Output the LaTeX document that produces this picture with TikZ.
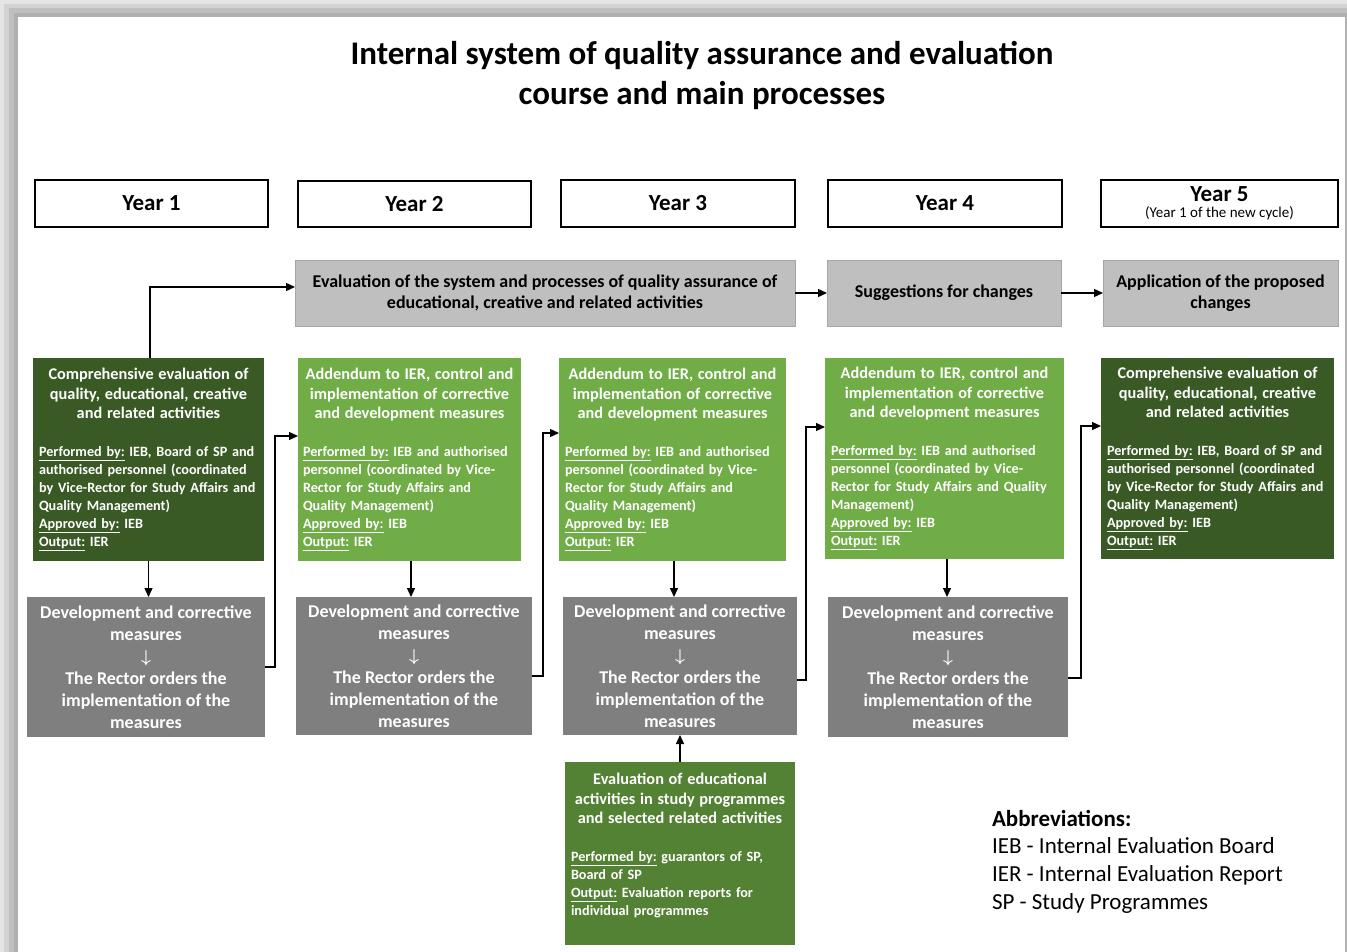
\documentclass[tikz,border=0pt]{standalone}
\usepackage{fontspec}
\setmainfont{Carlito}
\usetikzlibrary{arrows.meta}
\definecolor{dkgreen}{HTML}{3A5A25}
\definecolor{ltgreen}{HTML}{70AD47}
\definecolor{mdgreen}{HTML}{548235}
\definecolor{dkgray}{HTML}{7F7F7F}
\definecolor{ltgray}{HTML}{BFBFBF}
\definecolor{ltgrayb}{HTML}{A6A6A6}
\newcommand\bl[1]{\makebox[\hsize][l]{#1}}
\newcommand\ul[1]{\underline{#1}}
\newcommand\ttlf{\fontsize{16.3}{18}\selectfont\bfseries}
\begin{document}
\begin{tikzpicture}[x=1pt,y=-1pt,
  every node/.style={inner sep=0pt, outer sep=0pt},
  arr/.style={line width=1.4pt, -{Triangle[length=9pt,width=8pt]}},
  yearbox/.style={draw=black, line width=1.4pt, fill=white, anchor=north west, align=center,
     font=\fontsize{23}{24}\selectfont\bfseries},
  procbox/.style={draw=ltgrayb, line width=0.8pt, fill=ltgray, anchor=north west, align=center,
     font=\fontsize{18}{21}\selectfont\bfseries},
  greenbox/.style={fill=#1, anchor=north west, align=center, text=white,
     font=\fontsize{14.2}{18}\selectfont\bfseries},
  graybox/.style={fill=dkgray, anchor=north west, align=center, text=white,
     font=\fontsize{18}{22}\selectfont\bfseries}
]
\useasboundingbox (0,0) rectangle (1347,952);
% page frame with shadow
\fill[gray!20] (0,0) rectangle (1347,952);
\fill[gray!35] (4,4) rectangle (1347,952);
\fill[gray!50] (9,8) rectangle (1347,952);
\fill[gray!62] (14,13) rectangle (1347,952);
\fill[white] (18,17) rectangle (1345,960);
\draw[gray!60, line width=0.8pt] (1345,17) -- (1345,952);

% title
\node[align=center, font=\fontsize{33}{40}\selectfont\bfseries] (title) at (702,75)
  {Internal system of quality assurance and evaluation\\course and main processes};

% year headers
\node[yearbox, minimum width=233, minimum height=47] (y1) at (35,180) {Year 1};
\node[yearbox, minimum width=233, minimum height=46] (y2) at (298,181) {Year 2};
\node[yearbox, minimum width=234, minimum height=47] (y3) at (561,180) {Year 3};
\node[yearbox, minimum width=234, minimum height=47] (y4) at (828,180) {Year 4};
\node[yearbox, minimum width=237, minimum height=47] (y5) at (1101,180)
  {Year 5\\[-8pt]{\fontsize{15}{15}\selectfont\mdseries (Year 1 of the new cycle)}};

% process boxes
\node[procbox, minimum width=500, minimum height=66] (e1) at (295,260)
  {Evaluation of the system and processes of quality assurance of\\educational, creative and related activities};
\node[procbox, minimum width=234, minimum height=66] (e2) at (827,260) {Suggestions for changes};
\node[procbox, minimum width=235, minimum height=66] (e3) at (1103,260) {Application of the proposed\\changes};

% green boxes
\node[greenbox=dkgreen, text width=219, minimum width=231, minimum height=203] (g1) at (33,358)
  {{\ttlf Comprehensive evaluation of}\\[1.5pt]{\ttlf quality, educational, creative}\\[1.5pt]{\ttlf and related activities}\\[20pt]
   \bl{\ul{Performed by:} IEB, Board of SP and}\\
   \bl{authorised personnel (coordinated}\\
   \bl{by Vice-Rector for Study Affairs and}\\
   \bl{Quality Management)}\\
   \bl{\ul{Approved by:} IEB}\\
   \bl{\ul{Output:} IER}};
\node[greenbox=ltgreen, text width=213, minimum width=223, minimum height=203] (g2) at (298,358)
  {{\ttlf Addendum to IER, control and}\\[1.5pt]{\ttlf implementation of corrective}\\[1.5pt]{\ttlf and development measures}\\[20pt]
   \bl{\ul{Performed by:} IEB and authorised}\\
   \bl{personnel (coordinated by Vice-}\\
   \bl{Rector for Study Affairs and}\\
   \bl{Quality Management)}\\
   \bl{\ul{Approved by:} IEB}\\
   \bl{\ul{Output:} IER}};
\node[greenbox=ltgreen, text width=215, minimum width=227, minimum height=203] (g3) at (559,358)
  {{\ttlf Addendum to IER, control and}\\[1.5pt]{\ttlf implementation of corrective}\\[1.5pt]{\ttlf and development measures}\\[20pt]
   \bl{\ul{Performed by:} IEB and authorised}\\
   \bl{personnel (coordinated by Vice-}\\
   \bl{Rector for Study Affairs and}\\
   \bl{Quality Management)}\\
   \bl{\ul{Approved by:} IEB}\\
   \bl{\ul{Output:} IER}};
\node[greenbox=ltgreen, text width=227, minimum width=239, minimum height=201] (g4) at (825,358)
  {{\ttlf Addendum to IER, control and}\\[1.5pt]{\ttlf implementation of corrective}\\[1.5pt]{\ttlf and development measures}\\[20pt]
   \bl{\ul{Performed by:} IEB and authorised}\\
   \bl{personnel (coordinated by Vice-}\\
   \bl{Rector for Study Affairs and Quality}\\
   \bl{Management)}\\
   \bl{\ul{Approved by:} IEB}\\
   \bl{\ul{Output:} IER}};
\node[greenbox=dkgreen, text width=221, minimum width=233, minimum height=201] (g5) at (1101,358)
  {{\ttlf Comprehensive evaluation of}\\[1.5pt]{\ttlf quality, educational, creative}\\[1.5pt]{\ttlf and related activities}\\[20pt]
   \bl{\ul{Performed by:} IEB, Board of SP and}\\
   \bl{authorised personnel (coordinated}\\
   \bl{by Vice-Rector for Study Affairs and}\\
   \bl{Quality Management)}\\
   \bl{\ul{Approved by:} IEB}\\
   \bl{\ul{Output:} IER}};

% dark gray boxes
\newcommand\dgtext{Development and corrective\\measures\\{\boldmath$\downarrow$}\\The Rector orders the\\implementation of the\\measures}
\node[graybox, minimum width=238, minimum height=140] (d1) at (27,597) {\dgtext};
\node[graybox, minimum width=236, minimum height=138] (d2) at (296,597) {\dgtext};
\node[graybox, minimum width=234, minimum height=138] (d3) at (563,597) {\dgtext};
\node[graybox, minimum width=240, minimum height=140] (d4) at (828,597) {\dgtext};

% bottom box
\node[greenbox=mdgreen, text width=218, minimum width=230, minimum height=183] (b) at (565,762)
  {{\ttlf Evaluation of educational}\\[1.5pt]{\ttlf activities in study programmes}\\[1.5pt]{\ttlf and selected related activities}\\[20pt]
   \bl{\ul{Performed by:} guarantors of SP,}\\
   \bl{Board of SP}\\
   \bl{\ul{Output:} Evaluation reports for}\\
   \bl{individual programmes}\\[0pt]\mbox{}};

% abbreviations
\node[anchor=north west, align=left, font=\fontsize{23}{27.7}\selectfont] (abbr) at (992,810)
  {\textbf{Abbreviations:}\\IEB - Internal Evaluation Board\\IER - Internal Evaluation Report\\SP - Study Programmes};

% connectors
\draw[arr] ([xshift=1.5pt]g1.north) |- ([yshift=6pt]e1.west);
\draw[arr] (e1.east) -- (e2.west);
\draw[arr] (e2.east) -- (e3.west);
\draw[arr] (g1.south) -- (g1.south |- d1.north);
\draw[arr] ([xshift=1.5pt]g2.south) -- ([xshift=1.5pt]g2.south |- d2.north);
\draw[arr] ([xshift=1.5pt]g3.south) -- ([xshift=1.5pt]g3.south |- d3.north);
\draw[arr] ([xshift=2.5pt]g4.south) -- ([xshift=2.5pt]g4.south |- d4.north);
\draw[arr] (d1.east) -- ++(10,0) |- ([yshift=23.5pt]g2.west);
\draw[arr] ([yshift=-10pt]d2.east) -- ++(11,0) |- ([yshift=26.5pt]g3.west);
\draw[arr] ([yshift=-14pt]d3.east) -- ++(9,0) |- ([yshift=31.5pt]g4.west);
\draw[arr] ([yshift=-11pt]d4.east) -- ++(13,0) |- ([yshift=32.5pt]g5.west);
\draw[arr] (b.north) -- (b.north |- d3.south);
\end{tikzpicture}
\end{document}
